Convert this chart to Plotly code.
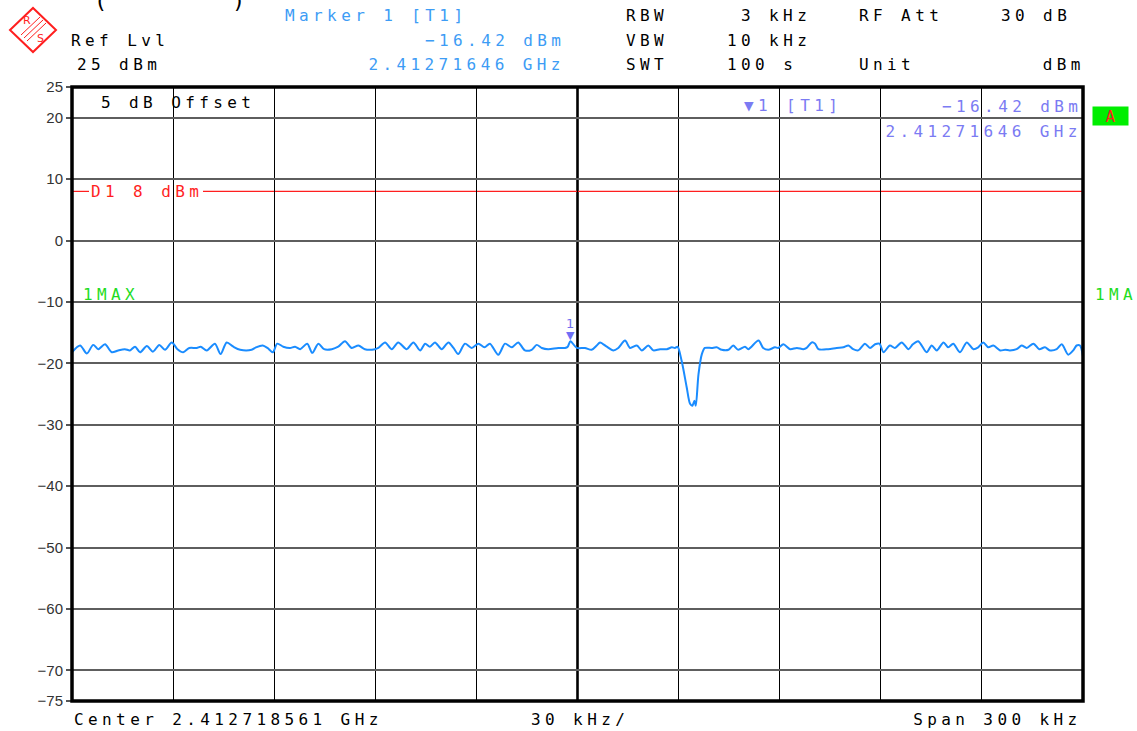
import plotly.graph_objects as go

# ---------------- data ----------------
# frequency offset from span start (kHz), span = 300 kHz
FREQ_KHZ = [
    0, 2.4, 4.4, 6.3, 7.8, 9.8, 11.8, 13.7, 15.7, 17.2, 18.7, 20.2, 22.2, 24.0, 25.9, 27.6,
    29.6, 31.3, 33.0, 34.8, 37.0, 38.2, 40.0, 42.4, 44.1, 45.9, 47.9, 49.9, 53.3, 54.6, 56.6,
    58.0, 59.6, 60.9, 62.7, 64.7, 66.2, 67.7, 69.8, 71.3, 73.1, 74.8,
    77.1, 79.0, 81.0, 83.0, 85.0, 86.9, 89.9, 90.9, 92.9, 94.9, 96.8, 99.3, 101.3, 103.3,
    104.8, 106.2, 107.7, 109.7, 111.7, 113.2, 114.6, 116.6, 118.6, 120.6, 122.4, 124.0,
    126.5, 128.5, 130.5, 132.4, 134.4, 136.4, 137.9, 139.4, 141.3, 144.3, 146.3, 147.1,
    147.9, 149.8,
    152.2, 154.2, 155.7, 156.7, 158.7, 160.6, 162.1, 164.1, 165.6, 167.6, 169.1, 171.0,
    172.5, 174.5, 176.5, 178.0, 178.9, 179.7, 180.9, 182.4, 183.4, 184.1, 184.7, 185.1,
    185.9, 186.9, 187.8, 189.8, 191.3, 192.8, 194.8, 196.2, 197.7, 199.7, 200.7, 203.7,
    205.1, 206.6, 208.6, 209.6, 211.1, 213.1, 215.1, 217.0, 218.0, 219.5, 220.5, 221.5, 224.4,
    226.9, 228.9, 230.4, 231.8, 233.3, 235.3, 236.8, 238.3, 239.6, 240.8, 242.7, 244.2,
    246.2, 248.2, 249.5, 251.1, 253.6, 255.1, 256.6, 258.6, 260.0, 261.5, 263.5, 265.5,
    267.5, 268.9, 270.4, 271.9, 273.4, 275.4, 276.9, 278.3, 280.3, 281.8, 283.3, 285.3,
    287.0, 288.7, 290.2, 292.2, 293.7, 295.6, 297.1, 298.1, 299.1, 300.0,
]
LEVEL_DBM = [
    -18.2, -17.1, -18.4, -17.0, -17.7, -16.9, -18.2, -17.9, -17.7, -17.9, -17.3, -18.2, -17.2, -18.1, -17.0, -17.8,
    -16.6, -17.7, -18.2, -17.5, -17.5, -17.3, -17.9, -16.8, -18.5, -16.6, -17.3, -17.8, -17.8, -17.4, -17.1,
    -17.5, -18.2, -16.8, -17.3, -17.5, -17.3, -17.7, -16.8, -18.3, -16.8, -17.7,
    -17.7, -17.3, -16.4, -17.5, -17.1, -17.7, -17.7, -17.5, -16.6, -17.7, -16.6, -17.7, -16.6, -17.9,
    -16.8, -17.3, -16.6, -17.7, -16.6, -17.5, -18.5, -16.8, -17.5, -16.8, -17.4, -16.8,
    -18.6, -16.8, -17.4, -16.6, -17.9, -17.8, -17.0, -17.5, -17.7, -17.5, -17.5, -17.3,
    -16.42, -17.5,
    -17.5, -17.8, -17.1, -16.6, -17.3, -17.9, -17.5, -16.3, -17.5, -17.1, -17.9, -17.1,
    -17.9, -17.7, -17.7, -17.4, -17.5, -17.3, -19.6, -23.9, -26.6, -26.9, -26.1, -26.9,
    -21.8, -18.5, -17.5, -17.5, -17.4, -17.8, -17.8, -17.1, -17.8, -17.3, -17.7, -16.3,
    -17.5, -17.8, -17.4, -17.5, -16.9, -17.7, -17.5, -17.7, -17.5, -16.6, -16.8, -17.7, -17.7,
    -17.5, -17.4, -17.1, -17.7, -17.9, -16.8, -17.5, -16.9, -16.8, -18.2, -17.1, -17.5,
    -16.6, -17.7, -16.9, -16.4, -18.2, -17.1, -17.9, -16.6, -17.4, -16.8, -18.2, -16.6,
    -17.7, -17.4, -16.6, -17.4, -17.1, -17.9, -17.8, -17.9, -17.7, -17.1, -17.5, -16.8,
    -17.7, -17.4, -17.9, -17.7, -16.9, -18.6, -17.9, -17.1, -17.1, -18.9,
]
MARKER_FREQ_KHZ = [147.9]
MARKER_LEVEL_DBM = [-16.42]
D1_LEVEL_DBM = 8
X_GRID_KHZ = [0, 30, 60, 90, 120, 150, 180, 210, 240, 270, 300]
CENTER_KHZ = 150
Y_TICKS = [25, 20, 10, 0, -10, -20, -30, -40, -50, -60, -70, -75]

# ---------------- styling ----------------
W, H = 1137, 731
ML, MR, MT, MB = 72, 54, 87, 30
PW, PH = W - ML - MR, H - MT - MB
MONO = "DejaVu Sans Mono"
BLUE = "#3d9cf5"
PURPLE = "#7b7bf3"
RED = "#ff1f1f"
GREEN = "#1fdc1f"
TRACE = "#1a8cff"


def xp(px):
    return (px - ML) / PW


def yp(py):
    return (H - MB - py) / PH


def label(text, x, y, color="black", anchor="left", size=16, family=MONO, **kw):
    return dict(text=text, x=xp(x), y=yp(y), xref="paper", yref="paper",
                xanchor=anchor, yanchor="middle", align=anchor, showarrow=False,
                font=dict(family=family, size=size, color=color), **kw)


fig = go.Figure()
fig.add_trace(go.Scatter(x=FREQ_KHZ, y=LEVEL_DBM, mode="lines",
                         line=dict(color=TRACE, width=2, shape="spline", smoothing=0.8),
                         hoverinfo="skip"))

annotations = [
    # header
    label("Marker 1 [T1]", 283, 16, BLUE),
    label("\u221216.42 dBm", 567, 41, BLUE, anchor="right"),
    label("2.41271646 GHz", 567, 65, BLUE, anchor="right"),
    label("RBW", 624, 16), label("3 kHz", 739, 16),
    label("RF Att", 857, 16), label("30 dB", 999, 16),
    label("VBW", 624, 41), label("10 kHz", 725, 41),
    label("SWT", 624, 65), label("100 s", 725, 65),
    label("Unit", 857, 65), label("dBm", 1087, 65, anchor="right"),
    label("Ref Lvl", 69, 41), label("25 dBm", 75, 65),
    label("(", 92, 1, size=22), label(")", 230, 1, size=22),
    # inside plot
    label("5 dB Offset", 99, 102),
    label("\u25bc1 [T1]", 742, 105, PURPLE),
    label("\u221216.42 dBm", 1084, 106, PURPLE, anchor="right"),
    label("2.41271646 GHz", 1084, 131, PURPLE, anchor="right"),
    label("D1 8 dBm", 89, 192, RED),
    label("1MAX", 81, 294, GREEN),
    label("1MA", 1093, 294, GREEN),
    dict(text="A", x=xp(1110), y=yp(116), xref="paper", yref="paper", xanchor="center",
         yanchor="middle", showarrow=False, bgcolor="#00ee00", width=33, height=16,
         font=dict(family=MONO, size=16, color=RED)),
    # bottom
    label("Center 2.412718561 GHz", 72, 719),
    label("30 kHz/", 529, 719),
    label("Span 300 kHz", 1084, 719, anchor="right"),
    # logo letters
    label("R", 27, 21, RED, anchor="center", size=11, family="DejaVu Sans"),
    label("S", 40, 39, RED, anchor="center", size=11, family="DejaVu Sans"),
]

# marker symbol and number at the marker point
annotations.append(dict(text="\u25bc", x=MARKER_FREQ_KHZ[0], y=MARKER_LEVEL_DBM[0],
                        xref="x", yref="y", xanchor="center", yanchor="bottom",
                        showarrow=False, yshift=-3,
                        font=dict(family="DejaVu Sans", size=11, color="#6f6ff5")))
annotations.append(dict(text="1", x=MARKER_FREQ_KHZ[0], y=MARKER_LEVEL_DBM[0],
                        xref="x", yref="y", xanchor="center", yanchor="bottom",
                        showarrow=False, yshift=8,
                        font=dict(family="DejaVu Sans", size=13, color="#7070f0")))

shapes = [
    # thicker centre line
    dict(type="line", xref="x", yref="paper", x0=CENTER_KHZ, x1=CENTER_KHZ, y0=0, y1=1,
         line=dict(color="black", width=2.6), layer="between"),
    # display line D1 (broken around its label)
    dict(type="line", xref="paper", yref="y", x0=0, x1=xp(89), y0=D1_LEVEL_DBM, y1=D1_LEVEL_DBM,
         line=dict(color=RED, width=1.2), layer="between"),
    dict(type="line", xref="paper", yref="y", x0=xp(203), x1=1, y0=D1_LEVEL_DBM, y1=D1_LEVEL_DBM,
         line=dict(color=RED, width=1.2), layer="between"),
    # black underline under 1MAX
    dict(type="line", xref="paper", yref="y", x0=xp(79), x1=xp(144), y0=-10, y1=-10,
         line=dict(color="black", width=2), layer="between"),
    # frame
    dict(type="rect", xref="paper", yref="paper", x0=0, x1=1, y0=0, y1=1,
         line=dict(color="black", width=3.5), layer="above"),
    # R&S logo diamond
    dict(type="path", xref="paper", yref="paper",
         path="M {},{} L {},{} L {},{} L {},{} Z".format(xp(10), yp(30), xp(33), yp(8),
                                                         xp(56), yp(30), xp(33), yp(52)),
         line=dict(color=RED, width=2)),
]
for d in (-3, 0, 3):
    shapes.append(dict(type="line", xref="paper", yref="paper",
                       x0=xp(24 + d), y0=yp(38 + d), x1=xp(43 + d), y1=yp(20 + d),
                       line=dict(color=RED, width=1)))

fig.update_layout(
    template="none",
    width=W, height=H, autosize=False,
    margin=dict(l=ML, r=MR, t=MT, b=MB, pad=0),
    paper_bgcolor="white", plot_bgcolor="white",
    showlegend=False,
    xaxis=dict(range=[0, 300], tickvals=X_GRID_KHZ, showticklabels=False, ticks="",
               showgrid=True, gridcolor="black", gridwidth=1.4, zeroline=False,
               showline=False, automargin=False, fixedrange=True),
    yaxis=dict(range=[-75, 25], tickvals=Y_TICKS, ticks="outside", ticklen=5,
               tickcolor="#555555", tickwidth=1.5,
               tickfont=dict(family="Liberation Sans Narrow, Liberation Sans", size=15, color="#333333"),
               showgrid=True, gridcolor="#5e5e5e", gridwidth=1.6, zeroline=False,
               showline=False, automargin=False, fixedrange=True),
    annotations=annotations,
    shapes=shapes,
)

POST = """
document.body.style.margin = '0';
document.body.style.overflow = 'hidden';
document.querySelectorAll('.annotation-text').forEach(function(t){
  var s = t.textContent || '';
  if (s.length > 1) { t.style.letterSpacing = '4.4px'; }
});
"""
fig.write_html("out.html", post_script=POST, config={"displayModeBar": False})
